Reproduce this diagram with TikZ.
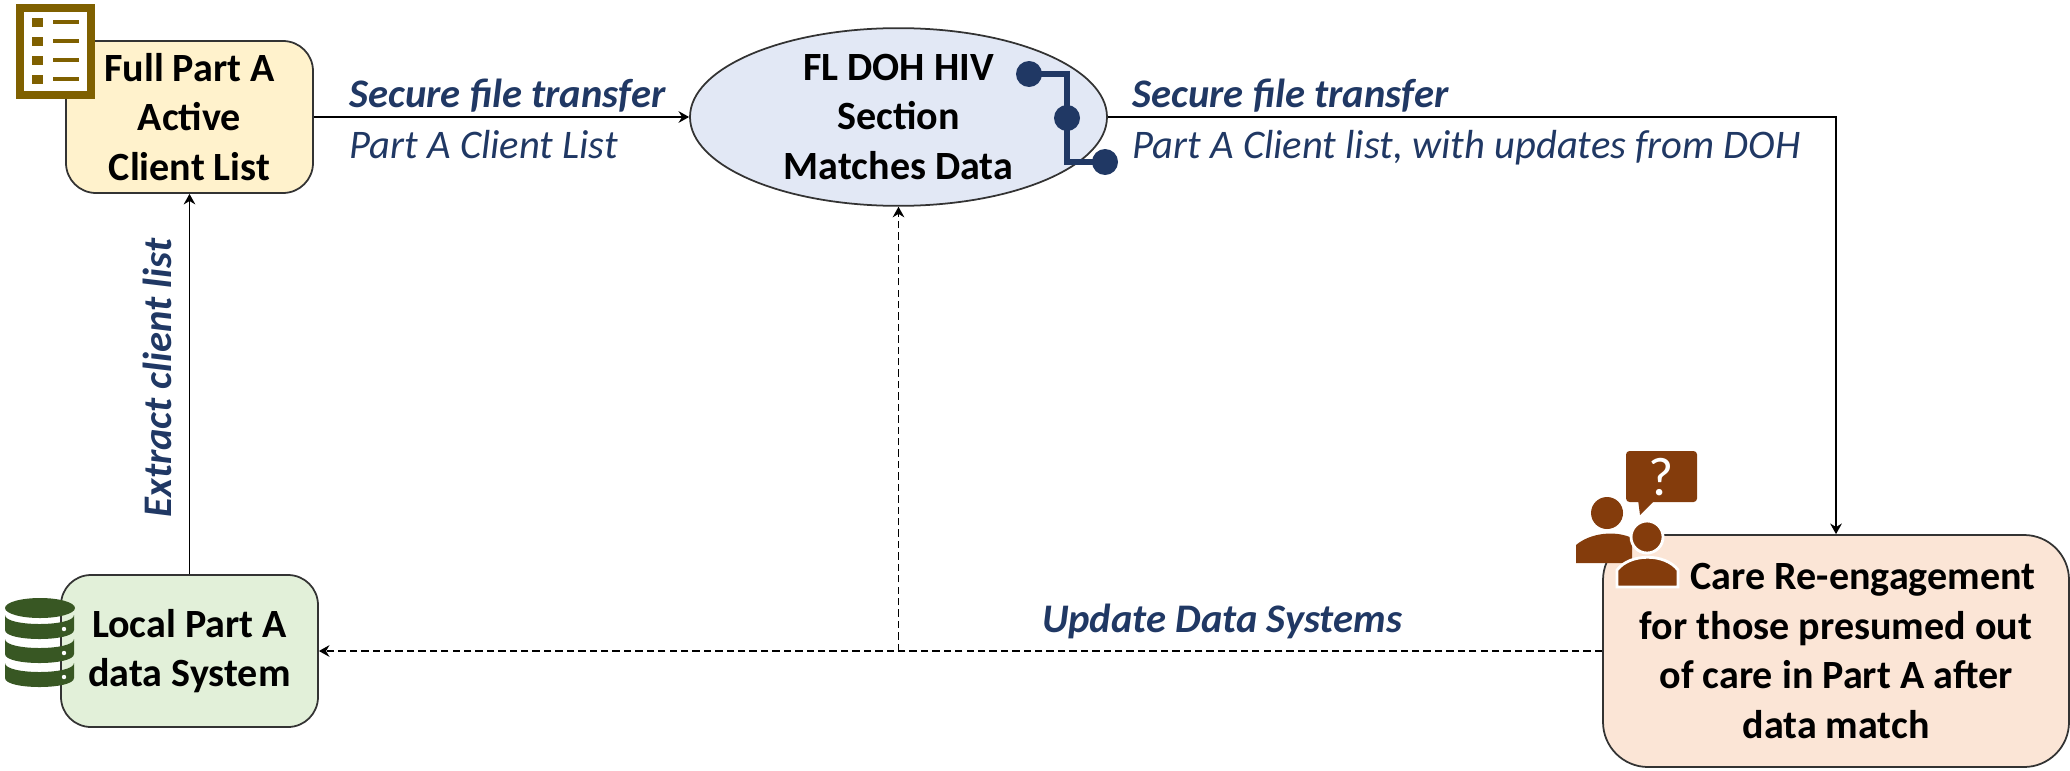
\documentclass[tikz,border=0pt]{standalone}
\usepackage{fontspec}
\setmainfont{Carlito}
\usetikzlibrary{shapes.geometric,arrows.meta}
\definecolor{labelblue}{RGB}{32,56,100}
\definecolor{listgold}{RGB}{127,96,0}
\definecolor{dbgreen}{RGB}{56,87,35}
\definecolor{carebrown}{RGB}{132,60,12}
\definecolor{fullfill}{RGB}{255,242,204}
\definecolor{matchfill}{RGB}{226,232,245}
\definecolor{localfill}{RGB}{226,240,217}
\definecolor{carefill}{RGB}{251,229,214}

\begin{document}
\begin{tikzpicture}

%
% Styles
%
\tikzstyle{stage}   = [draw=black!80,line width=0.5pt,rounded corners=0.3cm,align=center,inner sep=0pt,font=\fontsize{11.4}{14.1}\selectfont\bfseries]
\tikzstyle{edge}    = [-{Stealth[length=3pt,width=3.3pt]},line width=0.45pt]
\tikzstyle{dashedge}= [edge,dash pattern=on 2.1pt off 1.15pt]
\tikzstyle{boldlabel} = [text=labelblue,inner sep=0pt,font=\fontsize{11.55}{14}\selectfont\bfseries\itshape]
\tikzstyle{sublabel}  = [text=labelblue,inner sep=0pt,font=\fontsize{11.55}{14}\selectfont\itshape]

\useasboundingbox (0,0) rectangle (20.7,7.7);

\node[stage,fill=fullfill,minimum width=2.47cm,minimum height=1.52cm] (full) at (1.895,6.53) {Full Part A\\Active\\Client List};
\node[stage,fill=localfill,minimum width=2.57cm,minimum height=1.52cm] (local) at (1.895,1.19) {Local Part A\\data System};
\node[stage,fill=carefill,rounded corners=0.45cm,minimum width=4.66cm,minimum height=2.32cm] (care) at (18.36,1.19) {\hspace*{1.35em}Care Re-engagement\\for those presumed out\\of care in Part A after\\data match};
\node[stage,ellipse,fill=matchfill,minimum width=4.17cm,minimum height=1.69cm] (match) at (8.985,6.53) {FL DOH HIV\\Section\\Matches Data};

\coordinate (branch) at (8.985,1.19);

\draw[edge] (full) -- (match);
\draw[edge] (match) -| (care);
\draw[edge] (local) -- (full);
\draw[dashedge] (care) -- (local);
\draw[dashedge] (branch) -- (match);

\node[boldlabel,anchor=base west] (send) at (3.49,6.62) {Secure file transfer};
\node[sublabel,anchor=base west] (sendlist) at (3.49,6.12) {Part A Client List};
\node[boldlabel,anchor=base west] (back) at (11.32,6.62) {Secure file transfer};
\node[sublabel,anchor=base west] (backlist) at (11.32,6.12) {Part A Client list, with updates from DOH};
\node[boldlabel,anchor=base] (update) at (12.22,1.38) {Update Data Systems};
\node[boldlabel,anchor=base,rotate=90] (extract) at (1.71,3.92) {Extract client list};

%
% Icons, in pixels of the page
%
\begin{scope}[shift={(0,7.7)},x=0.1mm,y=-0.1mm]

% list
\draw[listgold,line width=2.2pt,fill=white] (20,8) rectangle (91,95);
\foreach \y in {22,41,60,79} {
  \fill[listgold] (32,\y-4) rectangle (43,\y+5);
  \draw[listgold,line width=1.1pt] (53,\y) -- (79,\y);
}

% matching links
\draw[labelblue,line width=1.7pt] (1029,74) -- (1067,74) -- (1067,162) -- (1105,162);
\foreach \x/\y in {1029/74,1067/118,1105/162}
  \fill[labelblue] (\x,\y) circle [radius=13];

% database
\fill[dbgreen] (40,608) ellipse [x radius=35,y radius=10];
\foreach \k in {0,1,2} {
  \pgfmathsetmacro{\st}{615+24*\k}
  \fill[dbgreen] (5,\st) .. controls (5,\st+12) and (74,\st+12) .. (74,\st) -- (74,\st+15) .. controls (74,\st+27) and (5,\st+27) .. (5,\st+15) -- cycle;
  \fill[white] (64,\st+14) circle [radius=2.2];
}

% people and question
\fill[carebrown,rounded corners=1pt] (1626,451) rectangle (1697,502);
\fill[carebrown] (1638,500) -- (1640,515) -- (1655,500) -- cycle;
\node[text=white,inner sep=0pt,font=\fontsize{15.5}{15.5}\selectfont] (question) at (1661,477) {?};
\fill[carebrown] (1607,513) circle [radius=16];
\fill[carebrown] (1576,563) -- (1576,545) .. controls (1590,533) and (1615,530) .. (1632,538) -- (1632,563) -- cycle;
\fill[carebrown,draw=white,line width=0.8pt] (1647,537) circle [radius=16];
\fill[carebrown,draw=white,line width=0.8pt] (1617,587) -- (1617,570) .. controls (1630,553) and (1665,553) .. (1678,570) -- (1678,587) -- cycle;

\end{scope}

\end{tikzpicture}
\end{document}
